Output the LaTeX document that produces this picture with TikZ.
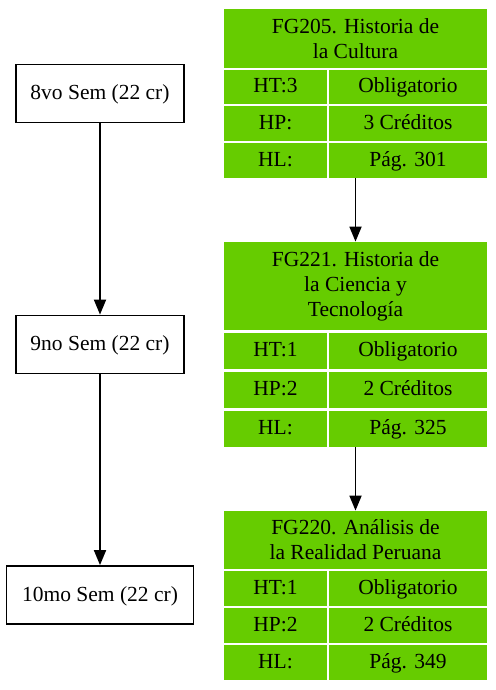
\documentclass[tikz,border=0pt]{standalone}
\usepackage{fontspec}
\setmainfont{Liberation Serif}
\usetikzlibrary{arrows.meta,fit}
\definecolor{cellgreen}{RGB}{102,204,0}
\begin{document}
\begin{tikzpicture}[x=1pt,y=-1pt,
  every node/.style={font=\fontsize{21.5}{25}\selectfont},
  titlecell/.style={fill=cellgreen,draw=none,inner sep=0pt,align=center},
  cell/.style={fill=cellgreen,draw=none,inner sep=0pt,text height=16.5pt,text depth=4.5pt},
  sembox/.style={draw=black,line width=1.8pt,fill=white,inner sep=0pt,text height=16.5pt,text depth=4.5pt},
  arr/.style={line width=1.8pt,-{Triangle[length=15pt,width=12pt]}},
  tbl/.style={inner sep=0pt,draw=none}]
\useasboundingbox[fill=white] (0,0) rectangle (495,690);
% Semester boxes
\node[sembox,minimum width=168pt,minimum height=58pt] (b8) at (100,93.5) {8vo Sem (22 cr)};
\node[sembox,minimum width=168pt,minimum height=58pt] (b9) at (100,344.5) {9no Sem (22 cr)};
\node[sembox,minimum width=187pt,minimum height=58pt] (b10) at (100,595) {10mo Sem (22 cr)};
\draw[arr] (b8) -- (b9);
\draw[arr] (b9) -- (b10);
% Table 1
\node[titlecell,minimum width=263pt,minimum height=59pt] (t1h) at (355.5,38.5) {FG205. Historia de\\la Cultura};
\node[cell,minimum width=103pt,minimum height=34pt] (t1a) at (275.5,87) {HT:3};
\node[cell,minimum width=158pt,minimum height=34pt] (t1b) at (408,87) {Obligatorio};
\node[cell,minimum width=103pt,minimum height=35pt] (t1c) at (275.5,123.5) {HP:};
\node[cell,minimum width=158pt,minimum height=35pt] (t1d) at (408,123.5) {3 Créditos};
\node[cell,minimum width=103pt,minimum height=35pt] (t1e) at (275.5,160.5) {HL:};
\node[cell,minimum width=158pt,minimum height=35pt] (t1f) at (408,160.5) {Pág. 301};
\node[tbl,fit=(t1h)(t1e)(t1f)] (T1) {};
% Table 2
\node[titlecell,minimum width=263pt,minimum height=88pt] (t2h) at (355.5,286) {FG221. Historia de\\la Ciencia y\\Tecnología};
\node[cell,minimum width=103pt,minimum height=36.5pt] (t2a) at (275.5,350.75) {HT:1};
\node[cell,minimum width=158pt,minimum height=36.5pt] (t2b) at (408,350.75) {Obligatorio};
\node[cell,minimum width=103pt,minimum height=36.5pt] (t2c) at (275.5,389.75) {HP:2};
\node[cell,minimum width=158pt,minimum height=36.5pt] (t2d) at (408,389.75) {2 Créditos};
\node[cell,minimum width=103pt,minimum height=36.5pt] (t2e) at (275.5,428.75) {HL:};
\node[cell,minimum width=158pt,minimum height=36.5pt] (t2f) at (408,428.75) {Pág. 325};
\node[tbl,fit=(t2h)(t2e)(t2f)] (T2) {};
% Table 3
\node[titlecell,minimum width=263pt,minimum height=57.5pt] (t3h) at (355.5,539.75) {FG220. Análisis de\\la Realidad Peruana};
\node[cell,minimum width=103pt,minimum height=35pt] (t3a) at (275.5,588.5) {HT:1};
\node[cell,minimum width=158pt,minimum height=35pt] (t3b) at (408,588.5) {Obligatorio};
\node[cell,minimum width=103pt,minimum height=35pt] (t3c) at (275.5,625.5) {HP:2};
\node[cell,minimum width=158pt,minimum height=35pt] (t3d) at (408,625.5) {2 Créditos};
\node[cell,minimum width=103pt,minimum height=35pt] (t3e) at (275.5,662.75) {HL:};
\node[cell,minimum width=158pt,minimum height=35pt] (t3f) at (408,662.75) {Pág. 349};
\node[tbl,fit=(t3h)(t3e)(t3f)] (T3) {};
\draw[arr] (T1) -- (T2);
\draw[arr] (T2) -- (T3);
\end{tikzpicture}
\end{document}
